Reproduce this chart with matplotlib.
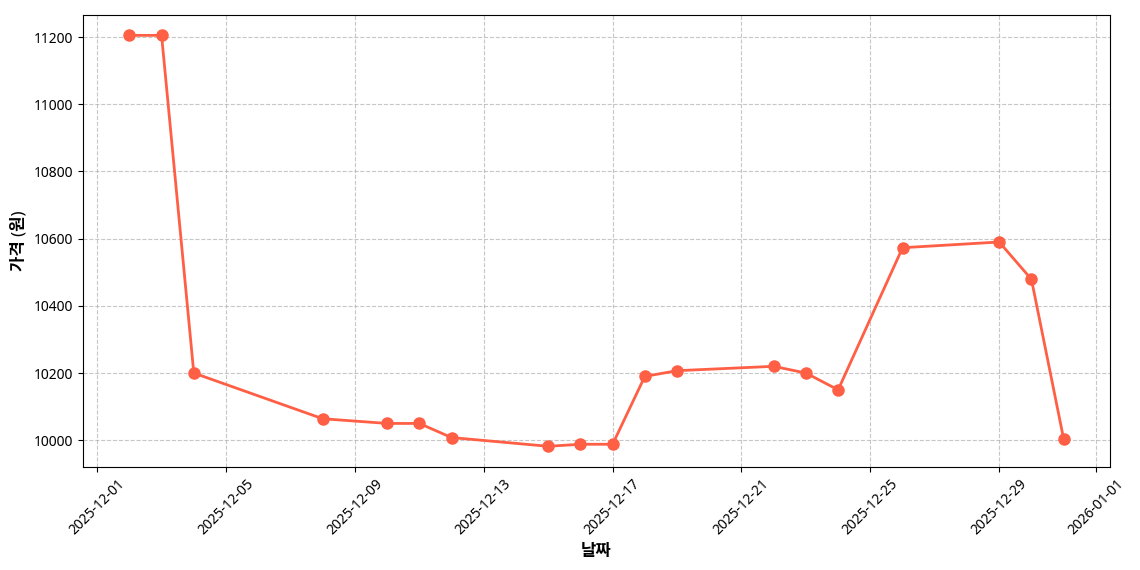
import matplotlib
matplotlib.use('Agg')
import matplotlib.pyplot as plt
import matplotlib.dates as mdates
import pandas as pd

plt.rcParams['font.family'] = ['Noto Sans', 'Noto Sans CJK KR', 'DejaVu Sans']
plt.rcParams['axes.unicode_minus'] = False

# 날짜별 가격 데이터
dates = ['2025-12-02', '2025-12-03', '2025-12-04', '2025-12-08', '2025-12-10',
         '2025-12-11', '2025-12-12', '2025-12-15', '2025-12-16', '2025-12-17',
         '2025-12-18', '2025-12-19', '2025-12-22', '2025-12-23', '2025-12-24',
         '2025-12-26', '2025-12-29', '2025-12-30', '2025-12-31']
prices = [11205, 11205, 10200, 10064, 10050,
          10050, 10008, 9982, 9988, 9988,
          10190, 10207, 10220, 10200, 10150,
          10573, 10590, 10479, 10004]

x = pd.to_datetime(dates)

fig, ax = plt.subplots(figsize=(11.4, 5.7), dpi=100)
ax.plot(x, prices, marker='o', color='#FF5F45', linewidth=2, markersize=8)

ax.set_xlabel('날짜', fontsize=12, fontweight='bold')
ax.set_ylabel('가격 (원)', fontsize=12, fontweight='bold')
ax.grid(True, linestyle='--', alpha=0.7)

ax.xaxis.set_major_locator(mdates.DayLocator(bymonthday=[1, 5, 9, 13, 17, 21, 25, 29]))
ax.xaxis.set_major_formatter(mdates.DateFormatter('%Y-%m-%d'))
plt.setp(ax.get_xticklabels(), rotation=45)

fig.subplots_adjust(left=0.0725, right=0.974, top=0.974, bottom=0.181)
fig.savefig('out.png', dpi=100)
